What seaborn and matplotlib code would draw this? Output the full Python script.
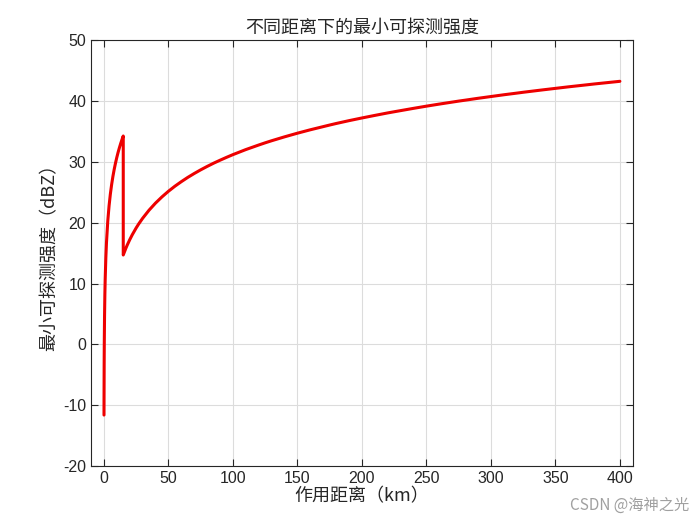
import matplotlib
matplotlib.use("Agg")
import matplotlib.pyplot as plt
import seaborn as sns
import pandas as pd

# Data (range km, min detectable dBZ)
range_km = [0.08, 0.1, 0.2, 0.3, 0.5, 0.75, 1, 1.5, 2, 3, 4, 5, 6, 7, 8, 9, 10,
            11, 12, 13, 14, 15,
            15, 17, 18, 20, 22, 25, 27, 30, 35, 40, 45, 50, 55, 60, 65, 70, 75,
            80, 85, 90, 95, 100, 110, 120, 125, 130, 140, 150, 160, 175, 180,
            190, 200, 210, 220, 225, 240, 250, 260, 275, 280, 290, 300, 310,
            320, 325, 340, 350, 360, 375, 380, 400]
min_dbz = [-11.6, -9.30, -3.28, 0.24, 4.68, 8.20, 10.70, 14.22, 16.72, 20.24,
           22.74, 24.68, 26.26, 27.60, 28.76, 29.78, 30.70, 31.53, 32.28,
           32.98, 33.62, 34.22,
           14.68, 15.77, 16.27, 17.18, 18.01, 19.12, 19.79, 20.70, 22.04,
           23.20, 24.22, 25.14, 25.97, 26.72, 27.42, 28.06, 28.66, 29.22,
           29.75, 30.24, 30.71, 31.16, 31.99, 32.74, 33.10, 33.44, 34.08,
           34.68, 35.24, 36.02, 36.27, 36.74, 37.18, 37.60, 38.01, 38.20,
           38.76, 39.12, 39.46, 39.95, 40.10, 40.41, 40.70, 40.99, 41.26,
           41.40, 41.79, 42.04, 42.29, 42.64, 42.76, 43.20]
x_ticks = [0, 50, 100, 150, 200, 250, 300, 350, 400]
y_ticks = [-20, -10, 0, 10, 20, 30, 40, 50]

title = "不同距离下的最小可探测强度"
xlabel = "作用距离（km）"
ylabel = "最小可探测强度（dBZ）"

sns.set_style("ticks")
plt.rcParams['font.family'] = ['Liberation Sans', 'Noto Sans CJK SC', 'DejaVu Sans']
plt.rcParams['axes.unicode_minus'] = False

df = pd.DataFrame({"range": range_km, "dbz": min_dbz})

fig = plt.figure(figsize=(7, 5.25), dpi=100)
ax = fig.add_axes([0.13, 0.112, 0.774, 0.812])

sns.lineplot(data=df, x="range", y="dbz", sort=False, estimator=None,
             color="#ee0000", linewidth=2.2, ax=ax)

ax.set_xlim(-10, 410)
ax.set_ylim(-20, 50)
ax.set_xticks(x_ticks)
ax.set_yticks(y_ticks)
ax.grid(True, color="#dcdcdc", linewidth=0.8)
ax.set_axisbelow(True)
ax.tick_params(direction="in", top=True, right=True, labelsize=11.5,
               colors="#262626", length=5, width=0.8)
for s in ax.spines.values():
    s.set_visible(True)
    s.set_color("#262626")
    s.set_linewidth(0.8)

cjk = ['Noto Sans CJK SC', 'DejaVu Sans']
ax.set_title(title, fontsize=13, color="#262626", family=cjk, pad=5)
ax.set_xlabel(xlabel, fontsize=13, color="#262626", family=cjk, labelpad=1)
ax.set_ylabel(ylabel, fontsize=13, color="#262626", family=cjk, labelpad=3)

fig.text(0.985, 0.022, "CSDN @海神之光", ha="right", va="bottom", fontsize=11,
         color="#a0a0a0", family=cjk)

fig.savefig("out.png", dpi=100)
